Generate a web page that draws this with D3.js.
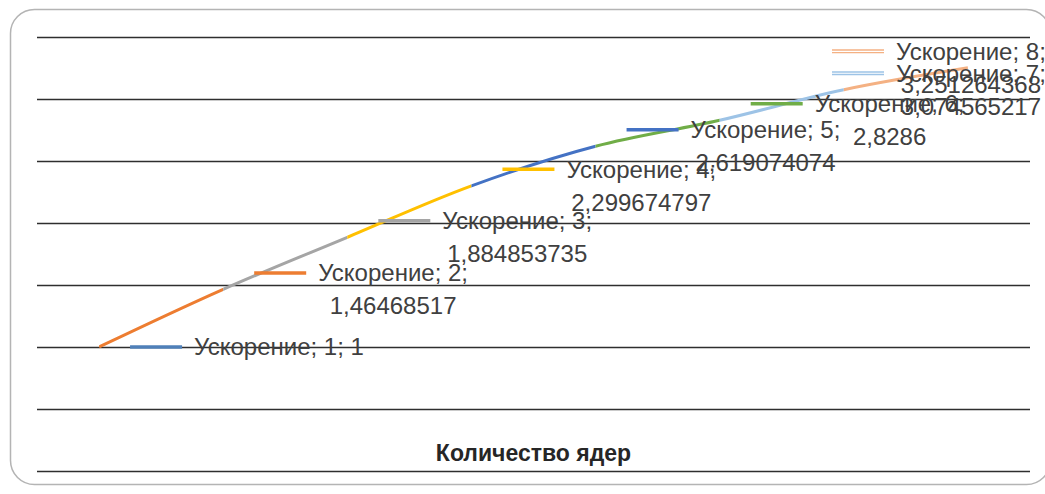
<!DOCTYPE html>
<html>
<head>
<meta charset="utf-8">
<script src="https://cdn.jsdelivr.net/npm/d3@7"></script>
<style>
  body { margin: 0; background: #fff; }
  svg { display: block; font-family: "Liberation Sans", Arial, sans-serif; }
</style>
</head>
<body>
<div id="chart"></div>
<script>
// data
let seriesName = 'Ускорение';
let cores = [1, 2, 3, 4, 5, 6, 7, 8];
let speedup = [1, 1.46468517, 1.884853735, 2.299674797, 2.619074074, 2.8286, 3.074565217, 3.251264368];
let pointColors = ['#4f80b9', '#ed7d31', '#a5a5a5', '#ffc000', '#4472c4', '#70ad47', '#9dc3e6', '#f4b183'];
let gridValues = [0, 0.5, 1, 1.5, 2, 2.5, 3, 3.5];
let xTitle = 'Количество ядер';

let svgWidth = 1045, svgHeight = 494;
let plot = { left: 37, right: 1030, top: 37, bottom: 471 };

let svg = d3.select('#chart').append('svg')
    .attr('width', svgWidth)
    .attr('height', svgHeight);

// chart border
svg.append('rect')
    .attr('x', 10.5).attr('y', 9.5)
    .attr('width', 1040).attr('height', 475)
    .attr('rx', 24).attr('ry', 24)
    .attr('fill', '#fff')
    .attr('stroke', '#b4b4b4')
    .attr('stroke-width', 1.5);

let x = d3.scalePoint()
    .domain(cores)
    .range([plot.left, plot.right])
    .padding(0.5);

let y = d3.scaleLinear()
    .domain([0, 3.5])
    .range([plot.bottom, plot.top]);

// horizontal gridlines
let grid = svg.append('g')
    .attr('class', 'grid')
    .attr('transform', 'translate(' + plot.left + ',0)')
    .call(d3.axisLeft(y).tickValues(gridValues).tickSize(-(plot.right - plot.left)).tickFormat(''));
grid.select('.domain').remove();
grid.selectAll('line')
    .attr('stroke', '#2e2e2e')
    .attr('stroke-width', 1.5);

let data = cores.map((c, i) => ({ core: c, value: speedup[i], color: pointColors[i] }));

let line = d3.line()
    .x(d => x(d.core))
    .y(d => y(d.value))
    .curve(d3.curveCatmullRom.alpha(0.5));

let fullPath = line(data);

// each segment gets the colour of the point it leads to
let defs = svg.append('defs');
data.slice(1).forEach((d, i) => {
    let x0 = x(data[i].core), x1 = x(d.core);
    defs.append('clipPath').attr('id', 'seg' + i)
        .append('rect')
        .attr('x', x0).attr('y', 0)
        .attr('width', x1 - x0).attr('height', svgHeight);
    svg.append('path')
        .attr('d', fullPath)
        .attr('fill', 'none')
        .attr('stroke', d.color)
        .attr('stroke-width', 3)
        .attr('clip-path', 'url(#seg' + i + ')');
});

// data labels with legend keys
let fontSize = 24, lineGap = 33, keyLen = 52, maxKeyX = 832;
let labels = svg.append('g').attr('class', 'labels');

data.forEach((d, i) => {
    let valueText = String(d.value).replace('.', ',');
    let twoLines = i > 0;
    let keyX = Math.min(x(d.core) + 31, maxKeyX);
    let keyY = twoLines ? y(d.value) - lineGap / 2 : y(d.value);

    let g = labels.append('g');
    g.append('line')
        .attr('x1', keyX).attr('x2', keyX + keyLen)
        .attr('y1', keyY).attr('y2', keyY)
        .attr('stroke', d.color)
        .attr('stroke-width', i >= 6 ? 4 : 3.5);
    if (i >= 6) {
        g.append('line')
            .attr('x1', keyX).attr('x2', keyX + keyLen)
            .attr('y1', keyY).attr('y2', keyY)
            .attr('stroke', '#fff')
            .attr('stroke-width', 1.2);
    }

    let first = g.append('text')
        .attr('x', keyX + keyLen + 12)
        .attr('y', keyY)
        .attr('dy', '0.35em')
        .attr('fill', '#404040')
        .style('font-size', fontSize + 'px')
        .text(twoLines ? seriesName + '; ' + d.core + ';' : seriesName + '; ' + d.core + '; ' + valueText);

    if (twoLines) {
        let w = first.node().getComputedTextLength();
        g.append('text')
            .attr('x', keyX + keyLen + 12 + w / 2)
            .attr('y', keyY + lineGap)
            .attr('dy', '0.35em')
            .attr('text-anchor', 'middle')
            .attr('fill', '#404040')
            .style('font-size', fontSize + 'px')
            .text(valueText);
    }
});

// axis title
svg.append('text')
    .attr('x', (plot.left + plot.right) / 2)
    .attr('y', 461)
    .attr('text-anchor', 'middle')
    .attr('fill', '#262626')
    .style('font-size', '23px')
    .style('font-weight', 'bold')
    .text(xTitle);
</script>
</body>
</html>
